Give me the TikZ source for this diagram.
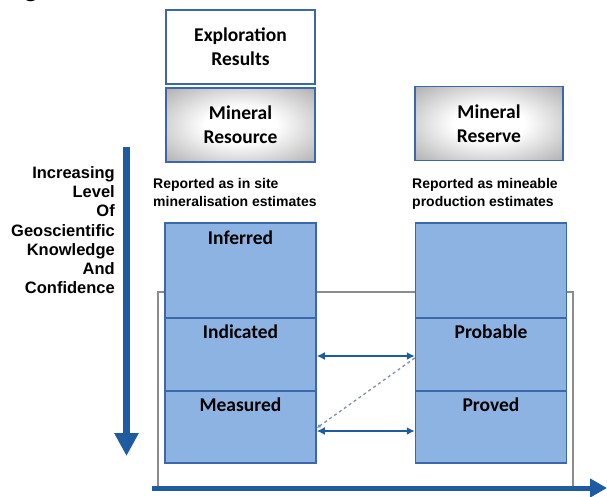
\documentclass[tikz,border=0pt]{standalone}
\usepackage{fontspec}
\setmainfont{Liberation Sans}
\newfontfamily\calib{Carlito}
\usetikzlibrary{arrows.meta}
\definecolor{boxblue}{HTML}{3A68AA}
\definecolor{colfill}{HTML}{8DB3E3}
\definecolor{arrblue}{HTML}{1F5BA0}
\definecolor{framegray}{HTML}{8C8C8C}
\definecolor{dashgray}{HTML}{7F8FA8}
% soft glow: white centre fading to grey towards the edges
\pgfdeclareradialshading{softglow}{\pgfpoint{0bp}{0bp}}{%
  color(0bp)=(white); color(12bp)=(white); color(50bp)=(black!50); color(72bp)=(black!55)}
\tikzset{
  titlebox/.style={draw=boxblue, line width=1.8pt, inner sep=0pt,
    minimum width=149pt, minimum height=74pt, align=center,
    font=\calib\bfseries\fontsize{19.5}{24}\selectfont},
  shadedbox/.style={titlebox, shading=softglow},
  colbox/.style={draw=boxblue, line width=1.5pt, fill=colfill, inner sep=0pt,
    minimum width=151pt},
  collabel/.style={font=\calib\bfseries\fontsize{19.5}{24}\selectfont, inner sep=0pt},
  sidetext/.style={font=\bfseries\fontsize{16.5}{19.3}\selectfont, align=right, inner sep=0pt},
  note/.style={font=\bfseries\fontsize{14}{18}\selectfont, align=left, inner sep=0pt},
  linkarrow/.style={arrblue, line width=2pt, {Latex[length=8pt,width=8pt]}-{Latex[length=8pt,width=8pt]}},
}
\begin{document}
\begin{tikzpicture}[x=1pt, y=-1pt]
\useasboundingbox (0,0) rectangle (607,497);

% caption fragment at the top edge
\node[font=\fontsize{30}{30}\selectfont, anchor=base, inner sep=0pt] (cap) at (31,-4) {g};

% heading boxes
\node[titlebox, fill=white] (expl) at (240.5,47) {Exploration\\Results};
\node[shadedbox] (res) at (240.5,125) {Mineral\\Resource};
\node[shadedbox, minimum width=148pt] (rsv) at (489,123.5) {Mineral\\Reserve};

% explanatory notes
\node[note, anchor=north west] (noteres) at (153,178) {Reported as in site\\mineralisation estimates};
\node[note, anchor=north west] (notersv) at (412,178) {Reported as mineable\\production estimates};

% left side caption
\node[sidetext, anchor=north east] (know) at (115,166)
  {Increasing\\Level\\Of\hspace*{0.4em}\\Geoscientific\\Knowledge\\And\hspace*{0.4em}\\Confidence};

% frame around the reportable categories
\node[draw=framegray, line width=1.5pt, inner sep=0pt, minimum width=415pt,
  minimum height=196pt] (frame) at (365.5,390) {};

% Mineral Resource categories
\node[colbox, minimum height=95pt] (inf) at (240.5,270.5) {};
\node[colbox, minimum height=73pt] (ind) at (240.5,354.5) {};
\node[colbox, minimum height=72pt] (mea) at (240.5,427) {};
% Mineral Reserve categories
\node[colbox, minimum height=95pt] (blank) at (491,270.5) {};
\node[colbox, minimum height=73pt] (prob) at (491,354.5) {};
\node[colbox, minimum height=72pt] (prov) at (491,427) {};

\node[collabel] (tinf) at (240.5,238) {Inferred};
\node[collabel] (tind) at (240.5,332) {Indicated};
\node[collabel] (tmea) at (240.5,405) {Measured};
\node[collabel] (tprob) at (491,332) {Probable};
\node[collabel] (tprov) at (491,405) {Proved};

% links between categories
\draw[linkarrow] ([yshift=-1.5pt]ind.east) -- ([yshift=-1.5pt]prob.west);
\draw[linkarrow] ([yshift=-4pt]mea.east) -- ([yshift=-4pt]prov.west);
\draw[dashgray, line width=1.3pt, dashed, -{Latex[length=4pt,width=4pt]}]
  ([yshift=-3.5pt]prob.west) -- ([yshift=-1pt]mea.east);

% axes
\coordinate (vtop) at (126.5,147);
\coordinate (vbot) at (126.5,456);
\coordinate (hleft) at (152,488);
\coordinate (hright) at (607,488);
\draw[arrblue, line width=7pt, -{Triangle[width=23pt,length=23pt]}] (vtop) -- (vbot);
\draw[arrblue, line width=5pt, -{Triangle[width=18pt,length=17pt]}] (hleft) -- (hright);
\end{tikzpicture}
\end{document}
